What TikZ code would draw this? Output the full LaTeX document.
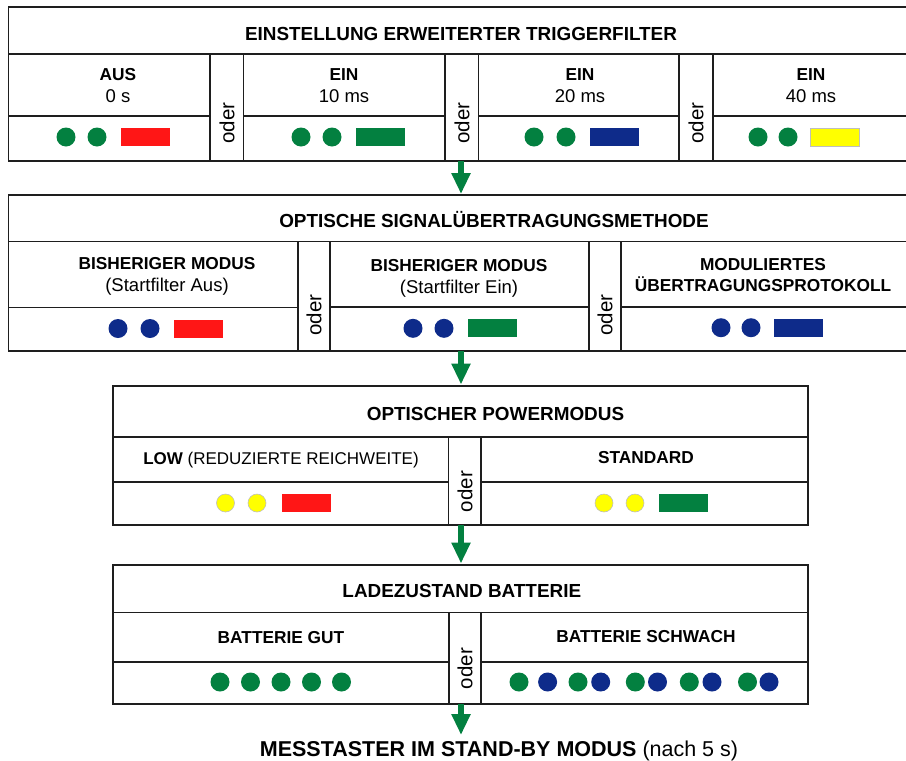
\documentclass[tikz,border=0pt]{standalone}
\usepackage{fontspec}
\setmainfont{Liberation Sans}
\usepackage{xcolor}
\usetikzlibrary{arrows.meta}
\definecolor{ledgreen}{RGB}{3,128,64}
\definecolor{ledblue}{RGB}{14,43,138}
\definecolor{ledred}{RGB}{255,22,22}
\definecolor{ledyellow}{RGB}{255,255,0}
\definecolor{rim}{RGB}{190,190,190}
\definecolor{frame}{RGB}{30,30,30}

\tikzset{
  box/.style={draw=frame, line width=1.4pt},
  head/.style={anchor=base, inner sep=0pt, font=\bfseries\fontsize{18.9}{20}\selectfont},
  sub/.style={anchor=base, inner sep=0pt, font=\bfseries\fontsize{17.3}{19}\selectfont},
  val/.style={anchor=base, inner sep=0pt, font=\fontsize{18.5}{20}\selectfont},
  oder/.style={rotate=90, inner sep=0pt, font=\fontsize{20.5}{22}\selectfont},
  led/.style={circle, minimum size=19pt, inner sep=0pt, fill=#1},
  yled/.style={circle, minimum size=18pt, inner sep=0pt, fill=ledyellow, draw=rim, line width=0.6pt},
  bar/.style={rectangle, minimum width=49pt, minimum height=18pt, inner sep=0pt, fill=#1},
  flow/.style={draw=ledgreen, line width=6pt, -{Triangle[width=18pt, length=21pt]}}
}

\begin{document}
\begin{tikzpicture}[x=1pt, y=-1pt]
    \useasboundingbox (0,0) rectangle (906,761);

    % triggerfilter
    \draw[box] (8.5,7) rectangle (914,161);
    \draw[box] (8.5,54) -- (914,54);
    \foreach \x in {210, 243.5, 445, 478.5, 679, 713}
        \draw[box] (\x,54) -- (\x,161);
    \draw[box] (8.5,116) -- (210,116);
    \draw[box] (243.5,116) -- (445,116);
    \draw[box] (478.5,116) -- (679,116);
    \draw[box] (713,116) -- (914,116);

    \node[head](TF) at (461, 40){EINSTELLUNG ERWEITERTER TRIGGERFILTER};
    \node[sub](TF_aus) at (118, 80){AUS};
    \node[val](TF_aus_t) at (118, 102.7){0 s};
    \node[sub](TF_10) at (344, 80){EIN};
    \node[val](TF_10_t) at (344, 102.7){10 ms};
    \node[sub](TF_20) at (580, 80){EIN};
    \node[val](TF_20_t) at (580, 102.7){20 ms};
    \node[sub](TF_40) at (811, 80){EIN};
    \node[val](TF_40_t) at (811, 102.7){40 ms};
    \node[oder](TF_o1) at (227, 123){oder};
    \node[oder](TF_o2) at (462, 123){oder};
    \node[oder](TF_o3) at (696, 123){oder};

    \node[led=ledgreen](TF_aus_d1) at (66, 137){};
    \node[led=ledgreen](TF_aus_d2) at (97, 137){};
    \node[bar=ledred](TF_aus_b) at (145.5, 137){};
    \node[led=ledgreen](TF_10_d1) at (301, 137){};
    \node[led=ledgreen](TF_10_d2) at (332, 137){};
    \node[bar=ledgreen](TF_10_b) at (380, 137){};
    \node[led=ledgreen](TF_20_d1) at (534, 137){};
    \node[led=ledgreen](TF_20_d2) at (566, 137){};
    \node[bar=ledblue](TF_20_b) at (614, 137){};
    \node[led=ledgreen](TF_40_d1) at (758, 137){};
    \node[led=ledgreen](TF_40_d2) at (788, 137){};
    \node[bar=ledyellow, draw=rim, line width=0.8pt](TF_40_b) at (835, 137){};

    % signaluebertragung
    \draw[box] (8.5,195) rectangle (914,351);
    \draw[box] (8.5,241.7) -- (914,241.7);
    \foreach \x in {298, 330, 589, 621}
        \draw[box] (\x,241.7) -- (\x,351);
    \draw[box] (8.5,307.5) -- (298,307.5);
    \draw[box] (330,307) -- (589,307);
    \draw[box] (621,307) -- (914,307);

    \node[head](SM) at (494, 227.3){OPTISCHE SIGNALÜBERTRAGUNGSMETHODE};
    \node[sub](SM_aus) at (167, 269.3){BISHERIGER MODUS};
    \node[val](SM_aus_t) at (167, 291){(Startfilter Aus)};
    \node[sub](SM_ein) at (459, 271){BISHERIGER MODUS};
    \node[val](SM_ein_t) at (459, 293.5){(Startfilter Ein)};
    \node[sub](SM_mod) at (763, 270){MODULIERTES};
    \node[sub](SM_mod_t) at (763, 291.7){ÜBERTRAGUNGSPROTOKOLL};
    \node[oder](SM_o1) at (314, 315){oder};
    \node[oder](SM_o2) at (605, 315){oder};

    \node[led=ledblue](SM_aus_d1) at (118, 328.5){};
    \node[led=ledblue](SM_aus_d2) at (150, 328.5){};
    \node[bar=ledred](SM_aus_b) at (198.5, 328.5){};
    \node[led=ledblue](SM_ein_d1) at (413, 328.3){};
    \node[led=ledblue](SM_ein_d2) at (444, 328.3){};
    \node[bar=ledgreen](SM_ein_b) at (492, 328.3){};
    \node[led=ledblue](SM_mod_d1) at (721, 327.7){};
    \node[led=ledblue](SM_mod_d2) at (751, 327.7){};
    \node[bar=ledblue](SM_mod_b) at (798.5, 327.7){};

    % powermodus
    \draw[box] (113,386) rectangle (808,525);
    \draw[box] (113,437) -- (808,437);
    \draw[box] (448.5,437) -- (448.5,525);
    \draw[box] (481,437) -- (481,525);
    \draw[box] (113,482) -- (448.5,482);
    \draw[box] (481,482) -- (808,482);

    \node[head](PM) at (495.5, 420){OPTISCHER POWERMODUS};
    \node[anchor=base, inner sep=0pt, font=\fontsize{17}{19}\selectfont](PM_low) at (281, 464){\textbf{LOW} (REDUZIERTE REICHWEITE)};
    \node[sub](PM_std) at (646, 463.5){STANDARD};
    \node[oder](PM_o) at (465, 491.5){oder};

    \node[yled](PM_low_d1) at (225.5, 503){};
    \node[yled](PM_low_d2) at (257, 503){};
    \node[bar=ledred](PM_low_b) at (306, 503){};
    \node[yled](PM_std_d1) at (604, 503){};
    \node[yled](PM_std_d2) at (635, 503){};
    \node[bar=ledgreen](PM_std_b) at (683.3, 503){};

    % batterie
    \draw[box] (113,565) rectangle (808,704);
    \draw[box] (113,612.7) -- (808,612.7);
    \draw[box] (449,612.7) -- (449,704);
    \draw[box] (481,612.7) -- (481,704);
    \draw[box] (113,662) -- (449,662);
    \draw[box] (481,662) -- (808,662);

    \node[head](BA) at (461.8, 597.7){LADEZUSTAND BATTERIE};
    \node[sub](BA_gut) at (281, 643.3){BATTERIE GUT};
    \node[sub](BA_low) at (646, 642){BATTERIE SCHWACH};
    \node[oder](BA_o) at (465, 668.5){oder};

    \foreach \x [count=\i] in {220, 250.5, 281, 311.5, 341.5}
        \node[led=ledgreen](BA_gut_d\i) at (\x, 682){};
    \foreach \x [count=\i] in {519, 578, 635.3, 689.3, 747.5}
        \node[led=ledgreen](BA_low_g\i) at (\x, 682){};
    \foreach \x [count=\i] in {547.6, 600.7, 657.5, 712, 769}
        \node[led=ledblue](BA_low_b\i) at (\x, 682){};

    \node[anchor=base, inner sep=0pt, font=\fontsize{21.5}{23}\selectfont](SB) at (499, 756){\textbf{MESSTASTER IM STAND-BY MODUS} (nach 5 s)};

    % pfeile
    \coordinate (TF_out) at (461, 161);
    \coordinate (SM_in) at (461, 194);
    \coordinate (SM_out) at (461, 351);
    \coordinate (PM_in) at (461, 384.5);
    \coordinate (PM_out) at (461, 525);
    \coordinate (BA_in) at (461, 563.5);
    \coordinate (BA_out) at (461, 704);
    \coordinate (SB_in) at (461, 735);

    \draw[flow] (TF_out) -- (SM_in);
    \draw[flow] (SM_out) -- (PM_in);
    \draw[flow] (PM_out) -- (BA_in);
    \draw[flow] (BA_out) -- (SB_in);
\end{tikzpicture}
\end{document}
